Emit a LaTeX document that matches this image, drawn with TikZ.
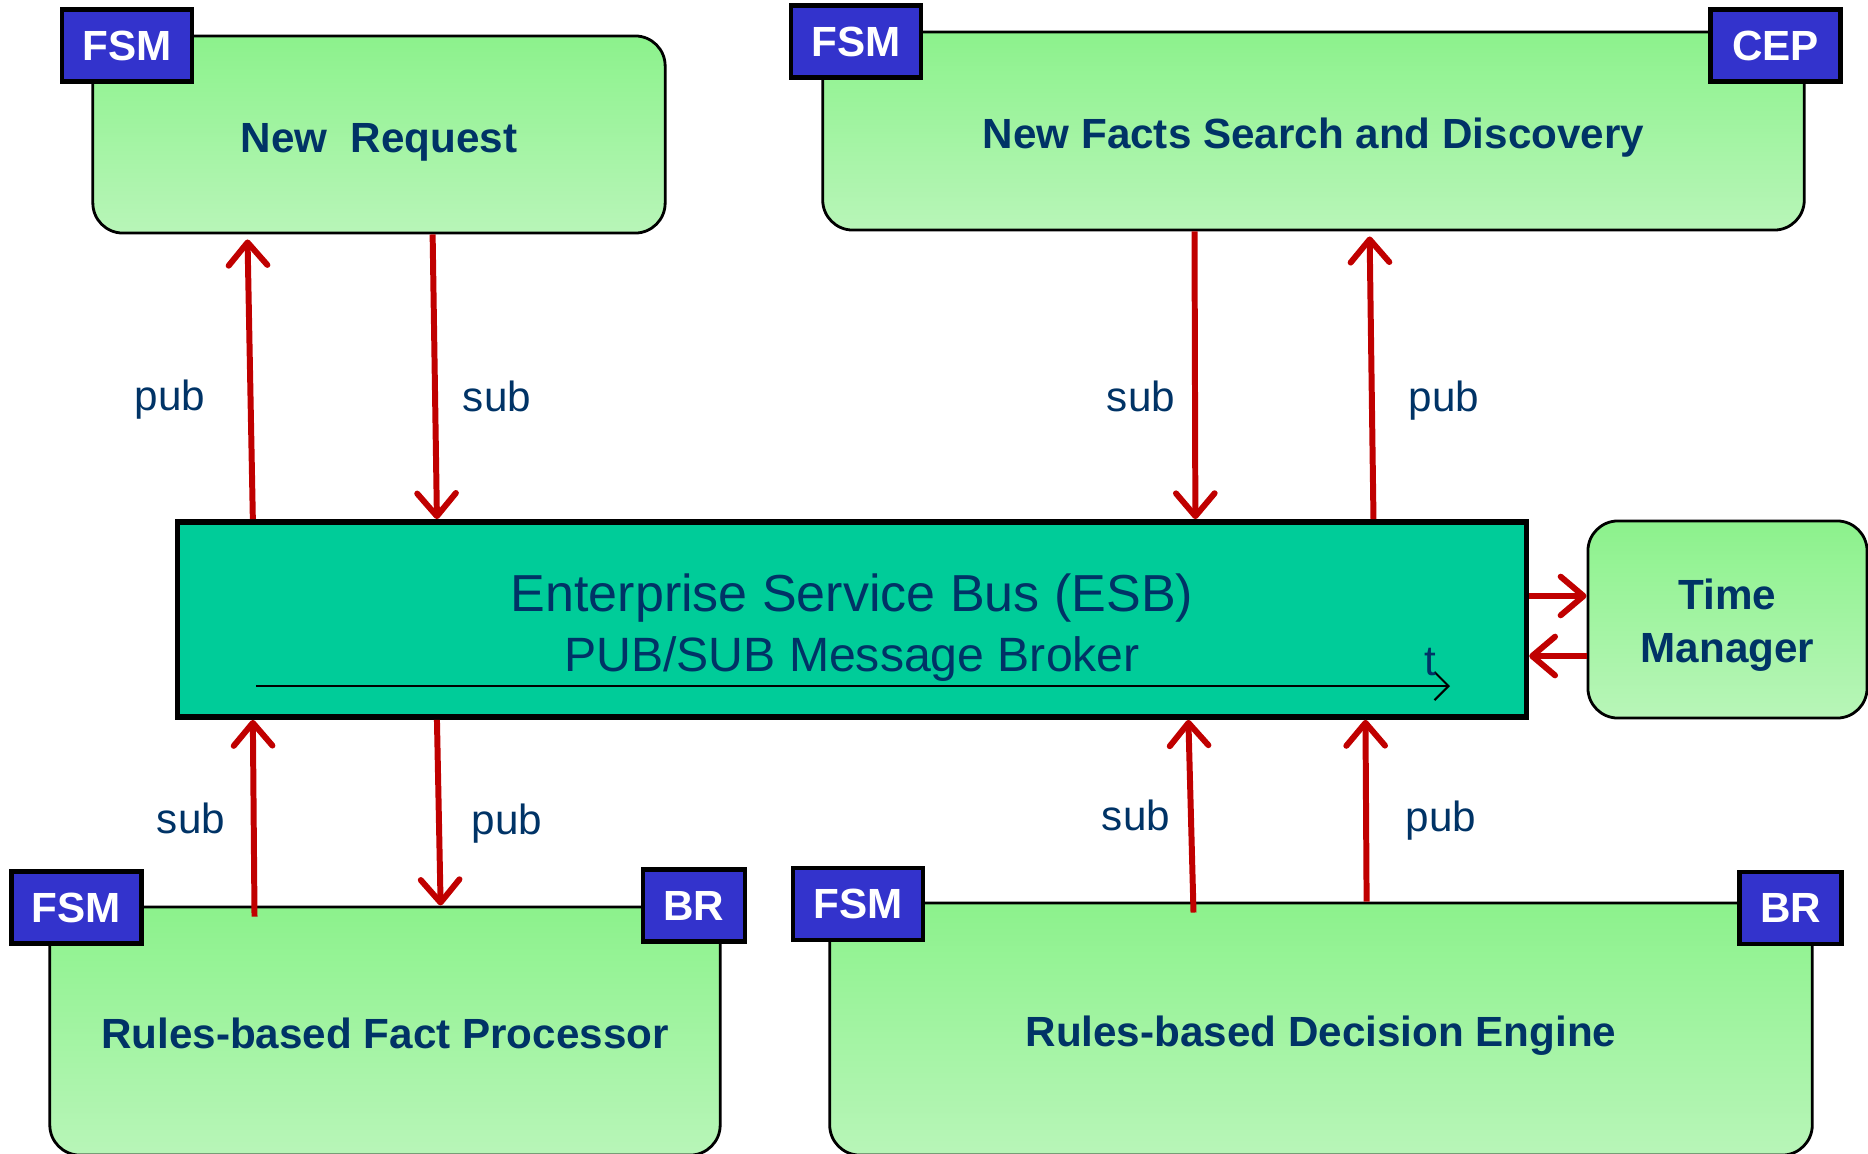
\documentclass[tikz,border=0pt]{standalone}
\usepackage{fontspec}
\setmainfont{Liberation Sans}
\usetikzlibrary{arrows.meta}
\definecolor{navy}{HTML}{003366}
\definecolor{boxtop}{HTML}{8CF28C}
\definecolor{boxbot}{HTML}{B8F5B8}
\definecolor{busfill}{HTML}{00CC99}
\definecolor{tagfill}{HTML}{3333CC}
\definecolor{flowred}{HTML}{C00000}

\begin{document}
\begin{tikzpicture}[x=0.01cm,y=-0.01cm,
  box node/.style={rectangle,rounded corners=0.3cm,draw,line width=0.8pt,top color=boxtop,bottom color=boxbot,text=navy,font=\fontsize{12}{15}\selectfont\bfseries,align=center,inner sep=0pt,text height=10pt,text depth=0pt},
  tag node/.style={rectangle,draw,line width=1.2pt,fill=tagfill,text=white,font=\fontsize{12}{14}\selectfont\bfseries,inner sep=0pt,minimum width=1.3cm,minimum height=0.72cm},
  lbl node/.style={text=navy,font=\fontsize{12}{14}\selectfont},
  flow/.style={draw=flowred,line width=1.7pt,-{Straight Barb[length=6.5pt,width=11pt,round]}}]

            \useasboundingbox (0,0) rectangle (1868,1154);

            % boxes
            \node[box node, minimum width=5.72cm, minimum height=1.97cm]  (req) at (379,134.5) {New~\ Request};
            \node[box node, minimum width=9.81cm, minimum height=1.98cm]  (facts) at (1313.5,131) {New Facts Search and Discovery};
            \node[box node, minimum width=2.79cm, minimum height=1.97cm, text height=24.2pt]  (time) at (1727.5,619.5) {Time\\Manager};
            \node[box node, minimum width=6.70cm, minimum height=2.48cm]  (proc) at (385,1031) {Rules-based Fact Processor};
            \node[box node, minimum width=9.82cm, minimum height=2.52cm]  (eng) at (1321,1029) {Rules-based Decision Engine};

            \node[rectangle, draw, line width=1.6pt, fill=busfill, text=navy, align=center, inner sep=0pt,
                  minimum width=13.48cm, minimum height=1.95cm, text height=29.3pt, text depth=0pt,
                  font=\fontsize{14.8}{17}\selectfont]  (esb) at (852,619.5)
                  {Enterprise Service Bus (ESB)\\\fontsize{13.7}{17}\selectfont PUB/SUB Message Broker};

            % tags
            \node[tag node]  (reqfsm) at (127,45.5) {FSM};
            \node[tag node]  (factsfsm) at (856,41.5) {FSM};
            \node[tag node]  (factscep) at (1775.5,45.5) {CEP};
            \node[tag node]  (procfsm) at (76.5,907.5) {FSM};
            \node[tag node, minimum width=1.02cm]  (procbr) at (694,905.5) {BR};
            \node[tag node]  (engfsm) at (858,904) {FSM};
            \node[tag node, minimum width=1.02cm]  (engbr) at (1790.5,908) {BR};

            % time line
            \coordinate (t0) at (256,686);
            \coordinate (t1) at (1450,686);
            \draw[line width=0.6pt, -{Straight Barb[length=4pt,width=8pt]}] (t0) -- (t1);
            \node[lbl node]  (tlbl) at (1430,662) {t};

            % pub/sub flows
            \draw[flow] ([xshift=0.78cm]esb.north west) to ([xshift=1.56cm,yshift=-0.05cm]req.south west);
            \draw[flow] ([xshift=3.41cm]req.south west) to ([xshift=2.62cm]esb.north west);
            \draw[flow] ([xshift=3.73cm]facts.south west) to ([xshift=10.20cm]esb.north west);
            \draw[flow] ([xshift=11.98cm]esb.north west) to ([xshift=5.48cm,yshift=-0.05cm]facts.south west);
            \draw[flow] ([xshift=2.06cm,yshift=-0.11cm]proc.north west) to ([xshift=0.78cm]esb.south west);
            \draw[flow] ([xshift=2.62cm]esb.south west) to ([xshift=3.92cm]proc.north west);
            \draw[flow] ([xshift=3.65cm,yshift=-0.11cm]eng.north west) to ([xshift=10.13cm]esb.south west);
            \draw[flow] ([xshift=5.38cm]eng.north west) to ([xshift=11.90cm]esb.south west);
            \draw[flow] ([yshift=0.235cm]esb.east) to ([yshift=0.235cm]time.west);
            \draw[flow] ([yshift=-0.365cm]time.west) to ([yshift=-0.365cm]esb.east);

            \node[lbl node]  (l1) at (170,399.5) {pub};
            \node[lbl node]  (l2) at (497,396.5) {sub};
            \node[lbl node]  (l3) at (1141,396.5) {sub};
            \node[lbl node]  (l4) at (1444,400.5) {pub};
            \node[lbl node]  (l5) at (191,818.5) {sub};
            \node[lbl node]  (l6) at (507,823.5) {pub};
            \node[lbl node]  (l7) at (1136,815.5) {sub};
            \node[lbl node]  (l8) at (1441,820.5) {pub};

        \end{tikzpicture}
\end{document}
